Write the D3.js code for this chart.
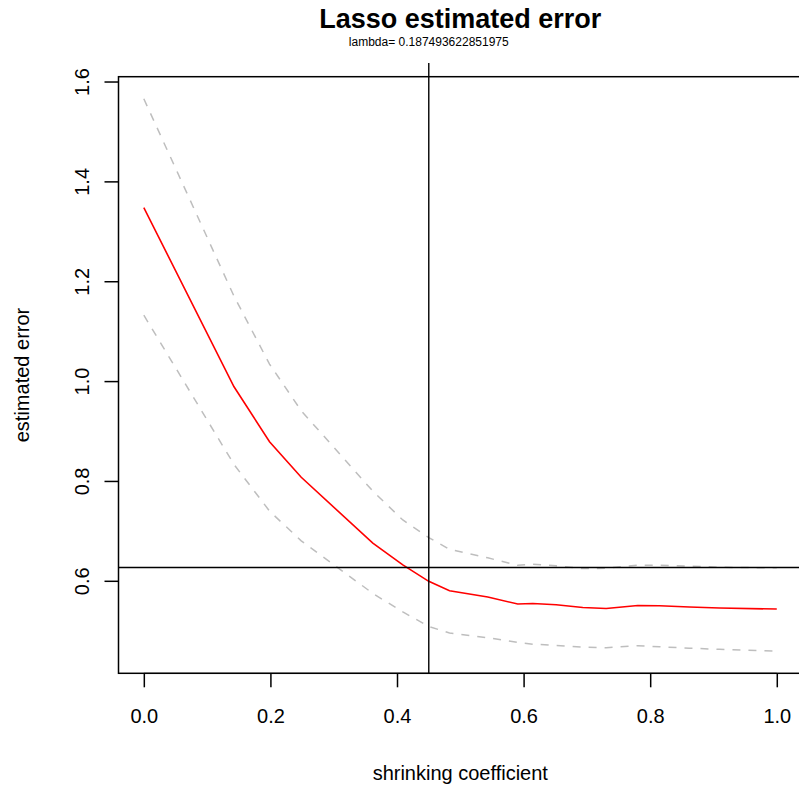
<!DOCTYPE html>
<html>
<head>
<meta charset="utf-8">
<script src="https://cdn.jsdelivr.net/npm/d3@7"></script>
<style>
  body { margin: 0; background: #fff; }
  svg { display: block; font-family: "Liberation Sans", Arial, Helvetica, sans-serif; }
</style>
</head>
<body>
<svg id="chart" width="799" height="788"></svg>
<script>
// shrinking coefficient (fraction) at each step
const fraction = [0, 0.1425, 0.1986, 0.2487, 0.3618, 0.4092, 0.4502, 0.483, 0.5434, 0.5908,
                  0.6145, 0.6515, 0.6935, 0.7305, 0.7804, 0.8147, 0.862, 0.9095, 1.0];
// cross-validated error and its +/- one SE band
const cvError = [1.3474, 0.9886, 0.8786, 0.8074, 0.6754, 0.632, 0.599, 0.58, 0.5674, 0.5534,
                 0.5546, 0.552, 0.5466, 0.5446, 0.5506, 0.55, 0.5474, 0.5454, 0.5434];
const upperBand = [1.5654, 1.17, 1.034, 0.9406, 0.7796, 0.7218, 0.6866, 0.663, 0.646, 0.631,
                   0.6334, 0.63, 0.6244, 0.6252, 0.6314, 0.631, 0.6296, 0.627, 0.626];
const lowerBand = [1.132, 0.833, 0.7396, 0.68, 0.5748, 0.5376, 0.5086, 0.4954, 0.486, 0.4764,
                   0.473, 0.4706, 0.4674, 0.466, 0.47, 0.468, 0.465, 0.4628, 0.459];
const xTicks = [0, 0.2, 0.4, 0.6, 0.8, 1.0];
const yTicks = [0.6, 0.8, 1.0, 1.2, 1.4, 1.6];
const bestFraction = 0.4502;   // vertical line
const errorCutoff = 0.6266;    // horizontal line
const lambdaText = "lambda= 0.187493622851975";

const svg = d3.select("#chart");
const plotLeft = 118.5, plotTop = 76.7, plotBottom = 673.3, plotW = 683.6;

// R style axis limits: data range stretched by 4% on each side
function rRange(vals) {
  const lo = d3.min(vals), hi = d3.max(vals), d = (hi - lo) * 0.04;
  return [lo - d, hi + d];
}
const x = d3.scaleLinear().domain(rRange(fraction)).range([plotLeft, plotLeft + plotW]);
const y = d3.scaleLinear().domain(rRange(upperBand.concat(lowerBand))).range([plotBottom, plotTop]);

const xr = x.range(), yr = y.range();

svg.append("defs").append("clipPath").attr("id", "plot")
  .append("rect").attr("x", xr[0]).attr("y", yr[1])
  .attr("width", xr[1] - xr[0]).attr("height", yr[0] - yr[1]);

const line = (vals) => d3.line().x((d, i) => x(fraction[i])).y(d => y(d))(vals);

const g = svg.append("g").attr("clip-path", "url(#plot)");

g.append("path").attr("d", line(upperBand))
  .attr("fill", "none").attr("stroke", "#bebebe").attr("stroke-width", 1.5)
  .attr("stroke-dasharray", "8,8");
g.append("path").attr("d", line(lowerBand))
  .attr("fill", "none").attr("stroke", "#bebebe").attr("stroke-width", 1.5)
  .attr("stroke-dasharray", "8,8");
g.append("path").attr("d", line(cvError))
  .attr("fill", "none").attr("stroke", "#ff0000").attr("stroke-width", 1.6);

// reference lines
g.append("line")
  .attr("x1", xr[0]).attr("x2", xr[1])
  .attr("y1", y(errorCutoff)).attr("y2", y(errorCutoff))
  .attr("stroke", "#000").attr("stroke-width", 1.4);
svg.append("line")
  .attr("x1", x(bestFraction)).attr("x2", x(bestFraction))
  .attr("y1", 63).attr("y2", yr[0])
  .attr("stroke", "#000").attr("stroke-width", 1.4);

// box
svg.append("rect")
  .attr("x", xr[0]).attr("y", yr[1])
  .attr("width", xr[1] - xr[0]).attr("height", yr[0] - yr[1])
  .attr("fill", "none").attr("stroke", "#000").attr("stroke-width", 1.5);

// x axis
const xAxis = svg.append("g").attr("transform", `translate(0,${yr[0]})`)
  .call(d3.axisBottom(x).tickValues(xTicks).tickSize(14).tickPadding(22)
        .tickFormat(d3.format(".1f")));
xAxis.select(".domain")
  .attr("d", `M${x(xTicks[0])},0H${x(xTicks[xTicks.length - 1])}`);
xAxis.selectAll("line").attr("stroke-width", 1.5);
xAxis.selectAll("text").attr("font-size", 20).attr("fill", "#000")
  .attr("font-family", "Liberation Sans, Arial, sans-serif");

// y axis
const yAxis = svg.append("g").attr("transform", `translate(${xr[0]},0)`)
  .call(d3.axisLeft(y).tickValues(yTicks).tickSize(14).tickFormat(d3.format(".1f")));
yAxis.select(".domain")
  .attr("d", `M0,${y(yTicks[0])}V${y(yTicks[yTicks.length - 1])}`);
yAxis.selectAll("line").attr("stroke-width", 1.5);
yAxis.selectAll("text")
  .attr("font-size", 20).attr("fill", "#000")
  .attr("font-family", "Liberation Sans, Arial, sans-serif")
  .attr("text-anchor", "middle").attr("dy", null).attr("x", null)
  .attr("transform", "translate(-37,0) rotate(-90)")
  .attr("y", 0).attr("dominant-baseline", "central");

// titles
svg.append("text")
  .attr("x", (xr[0] + xr[1]) / 2).attr("y", 28)
  .attr("text-anchor", "middle").attr("font-size", 27).attr("font-weight", "bold")
  .text("Lasso estimated error");
svg.append("text")
  .attr("x", x(bestFraction)).attr("y", 45.5)
  .attr("text-anchor", "middle").attr("font-size", 12)
  .text(lambdaText);
svg.append("text")
  .attr("x", (xr[0] + xr[1]) / 2).attr("y", 780)
  .attr("text-anchor", "middle").attr("font-size", 20)
  .text("shrinking coefficient");
svg.append("text")
  .attr("transform", `translate(29,${(yr[0] + yr[1]) / 2}) rotate(-90)`)
  .attr("text-anchor", "middle").attr("font-size", 20)
  .text("estimated error");
</script>
</body>
</html>
